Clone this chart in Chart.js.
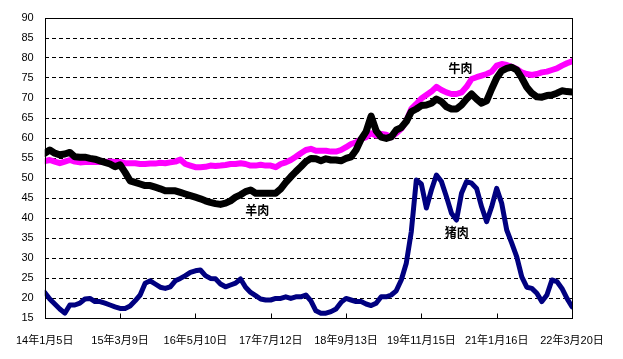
<!DOCTYPE html>
<html>
<head>
<meta charset="utf-8">
<script src="https://cdn.jsdelivr.net/npm/chart.js@4/dist/chart.umd.min.js"></script>
<style>
  html, body { margin: 0; padding: 0; background: #ffffff; }
  #wrap { width: 623px; height: 359px; }
</style>
</head>
<body>
<div id="wrap"><canvas id="c" width="623" height="359"></canvas></div>
<script>
// ---- data (weekly prices, sampled 15 points per labelled interval) ----
const xLabels = ['14年1月5日','15年3月9日','16年5月10日','17年7月12日','18年9月13日','19年11月15日','21年1月16日','22年3月20日'];
const samplesPerLabel = 15;

const mutton = [ // 羊肉 (black)
  56.2,57.0,56.2,55.8,56.0,56.4,55.3,55.2,55.2,54.9,
  54.7,54.3,53.9,53.5,52.8,53.3,51.4,49.3,48.9,48.5,
  48.1,48.1,47.7,47.3,46.8,46.8,46.8,46.4,46.0,45.6,
  45.2,44.8,44.3,43.9,43.6,43.4,43.7,44.3,45.2,45.8,
  46.6,47.0,46.2,46.2,46.2,46.2,46.2,47.3,48.9,50.3,
  51.6,52.8,54.1,54.9,54.8,54.3,54.8,54.5,54.5,54.3,
  54.9,55.3,57.0,59.7,61.6,65.5,61.8,60.2,59.9,60.3,
  62.0,62.6,64.1,66.6,67.25,68.1,68.25,68.7,69.75,69.1,
  67.8,67.25,67.25,68.25,69.75,71.0,69.75,68.7,69.3,72.25,
  75.0,76.8,77.4,77.7,77.0,75.0,72.7,71.2,70.3,70.2,
  70.6,70.75,71.2,71.8,71.6,71.5
];
const beef = [ // 牛肉 (magenta)
  54.2,54.5,54.1,53.7,54.1,54.5,54.1,53.9,54.0,54.0,
  54.0,54.0,54.0,54.1,54.0,54.0,53.7,53.7,53.7,53.5,
  53.5,53.6,53.6,53.8,53.7,53.9,54.1,54.6,53.5,53.1,
  52.7,52.7,52.8,53.1,53.0,53.1,53.25,53.5,53.5,53.7,
  53.5,53.1,53.1,53.3,53.1,53.1,52.7,53.5,53.9,54.5,
  55.3,56.2,57.0,57.3,56.8,56.8,56.8,56.6,56.6,57.0,
  57.7,58.5,58.9,59.75,60.2,61.2,60.6,61.0,60.8,60.2,
  61.2,62.3,64.3,67.25,68.5,69.9,70.75,71.6,72.8,72.0,
  71.4,71.0,71.0,71.4,72.8,74.75,75.2,75.6,76.0,76.6,
  78.1,78.5,78.25,77.8,77.25,76.4,76.0,75.75,76.0,76.4,
  76.6,77.0,77.4,78.1,78.7,79.2
];
const pork = [ // 猪肉 (navy)
  21.4,19.75,18.5,17.25,16.2,18.25,18.25,18.7,19.75,19.9,
  19.1,19.1,18.7,18.25,17.8,17.4,17.4,18.0,19.3,20.75,
  23.7,24.3,23.5,22.7,22.4,22.8,24.3,24.9,25.6,26.4,
  26.8,27.0,25.6,24.9,24.8,23.5,22.8,23.25,23.7,24.75,
  22.7,21.4,20.6,19.75,19.5,19.5,19.9,19.9,20.3,19.9,
  20.3,20.3,20.75,19.3,16.8,16.2,16.2,16.6,17.25,18.9,
  19.9,19.5,19.1,19.1,18.5,18.1,18.7,20.3,20.3,20.75,
  21.8,24.5,28.7,36.6,49.5,48.5,42.5,47.0,50.75,49.1,
  45.3,41.2,39.5,46.2,49.1,48.7,47.4,42.8,39.1,42.8,
  47.4,43.7,37.0,33.7,30.3,25.3,22.7,22.4,21.2,19.1,
  20.75,24.5,24.1,22.4,19.9,17.8
];
const seriesNames = ['羊肉','牛肉','猪肉'];
// in-chart series labels: [text, x (label-interval units), y (value)]
const seriesTags = [['牛肉',5.52,77.3],['羊肉',2.82,42.0],['猪肉',5.47,36.3]];
const yMin = 15, yMax = 90, yStep = 5;

// ---- build ----
const toXY = arr => arr.map((v, i) => ({ x: i / samplesPerLabel, y: v }));

const framePlugin = {
  id: 'frame',
  afterDatasetsDraw(chart) {
    const { ctx, chartArea: a, scales: { x, y } } = chart;
    ctx.save();
    ctx.strokeStyle = '#000';
    ctx.lineWidth = 1;
    ctx.setLineDash([]);
    const L = Math.round(a.left) + 0.5, T = Math.round(a.top) + 0.5;
    const R = Math.round(a.right) + 0.5, B = Math.round(a.bottom) + 0.5;
    ctx.strokeRect(L, T, R - L, B - T);
    ctx.beginPath();
    for (let i = 1; i < xLabels.length; i++) {
      const px = Math.round(x.getPixelForValue(i)) + 0.5;
      ctx.moveTo(px, B);
      ctx.lineTo(px, B - 5);
    }
    ctx.stroke();
    ctx.fillStyle = '#000';
    ctx.font = 'bold 12px "Noto Sans CJK SC"';
    ctx.textAlign = 'center';
    ctx.textBaseline = 'middle';
    seriesTags.forEach(([t, tx, ty]) => {
      ctx.fillText(t, x.getPixelForValue(tx), y.getPixelForValue(ty));
    });
    ctx.restore();
  }
};

const bgPlugin = {
  id: 'bg',
  beforeDraw(chart) {
    const ctx = chart.ctx;
    ctx.save();
    ctx.fillStyle = '#fff';
    ctx.fillRect(0, 0, chart.width, chart.height);
    ctx.restore();
  }
};

const tickFont = { family: '"Liberation Sans", "Noto Sans CJK SC", sans-serif', size: 11 };

new Chart(document.getElementById('c'), {
  type: 'line',
  data: {
    datasets: [
      { label: seriesNames[0], data: toXY(mutton), borderColor: '#000000', borderWidth: 7 },
      { label: seriesNames[1], data: toXY(beef), borderColor: '#FF00FF', borderWidth: 6 },
      { label: seriesNames[2], data: toXY(pork), borderColor: '#000080', borderWidth: 5 }
    ].map(d => Object.assign(d, { pointRadius: 0, tension: 0, fill: false, borderJoinStyle: 'round', borderCapStyle: 'round' }))
  },
  options: {
    responsive: false,
    animation: false,
    events: [],
    layout: { padding: { left: 0, top: 18, right: 51, bottom: 0 } },
    plugins: { legend: { display: false }, tooltip: { enabled: false } },
    scales: {
      x: {
        type: 'linear',
        min: 0,
        max: xLabels.length - 1,
        afterFit: s => { s.height = 41; },
        grid: { display: false, drawTicks: false },
        border: { display: false },
        ticks: {
          stepSize: 1,
          autoSkip: false,
          maxRotation: 0,
          padding: 16,
          color: '#000',
          font: tickFont,
          callback: v => xLabels[v] ?? ''
        }
      },
      y: {
        min: yMin,
        max: yMax,
        afterFit: s => { s.width = 37; },
        grid: { color: '#000', lineWidth: 1, drawTicks: false },
        border: { display: false, dash: [4, 3] },
        ticks: { stepSize: yStep, padding: 11, color: '#000', font: tickFont }
      }
    }
  },
  plugins: [bgPlugin, framePlugin]
});
</script>
</body>
</html>
